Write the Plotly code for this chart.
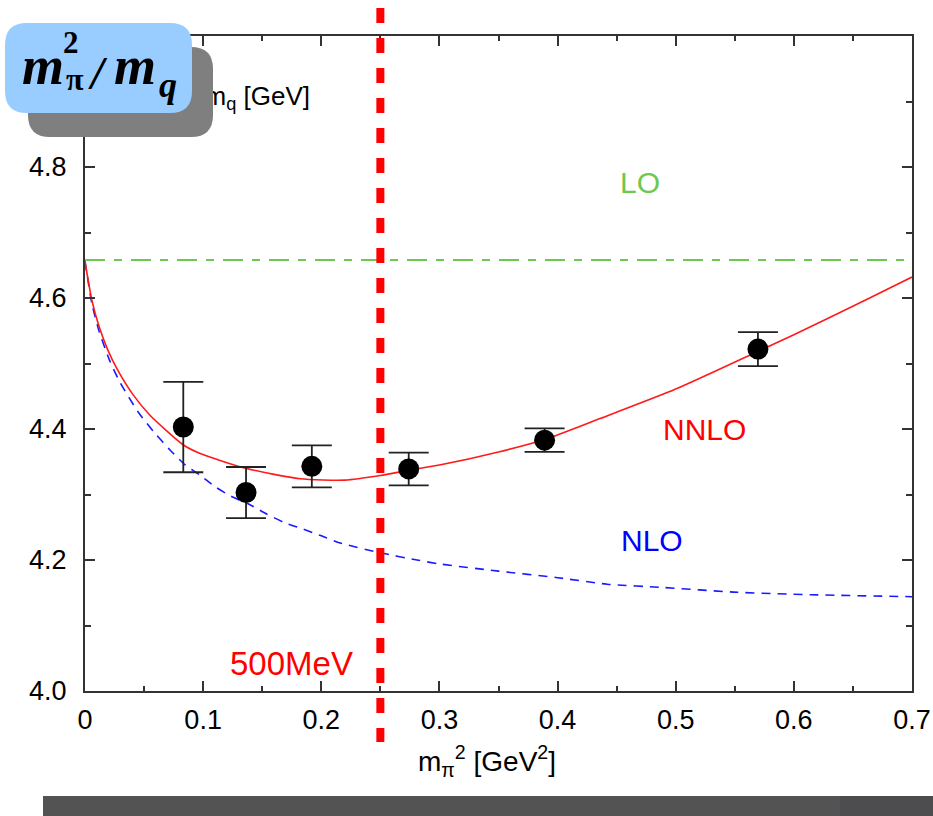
import plotly.graph_objects as go

# ---------------- data ----------------
data_x = [0.0832, 0.1363, 0.192, 0.274, 0.389, 0.5696]
data_y = [4.403, 4.303, 4.343, 4.339, 4.383, 4.522]
data_err = [0.069, 0.039, 0.032, 0.025, 0.018, 0.026]

nnlo_x = [0, 0.006, 0.012, 0.019, 0.027, 0.04, 0.055, 0.083, 0.097, 0.136, 0.182,
          0.22, 0.25, 0.274, 0.30, 0.35, 0.389, 0.436, 0.5, 0.569, 0.6, 0.662, 0.7]
nnlo_y = [4.656, 4.595, 4.556, 4.522, 4.492, 4.454, 4.421, 4.376, 4.363, 4.340, 4.324,
          4.322, 4.329, 4.337, 4.345, 4.365, 4.384, 4.416, 4.461, 4.518, 4.544, 4.598, 4.632]

nlo_x = [0, 0.006, 0.012, 0.021, 0.03, 0.045, 0.058, 0.072, 0.085, 0.097, 0.110, 0.124,
         0.140, 0.154, 0.169, 0.185, 0.200, 0.216, 0.25, 0.281, 0.30, 0.35, 0.40, 0.442,
         0.49, 0.549, 0.614, 0.7]
nlo_y = [4.656, 4.590, 4.549, 4.504, 4.470, 4.426, 4.396, 4.368, 4.345, 4.330, 4.312, 4.297,
         4.284, 4.270, 4.257, 4.247, 4.237, 4.226, 4.211, 4.200, 4.194, 4.183, 4.173, 4.163,
         4.158, 4.151, 4.147, 4.144]

lo_x = [0, 0.7]
lo_y = [4.658, 4.658]

cut_x = 0.25  # (500 MeV)^2

x_ticks = [0, 0.1, 0.2, 0.3, 0.4, 0.5, 0.6, 0.7]
x_ticktext = ["0", "0.1", "0.2", "0.3", "0.4", "0.5", "0.6", "0.7"]
y_ticks = [4.0, 4.2, 4.4, 4.6, 4.8]
y_ticktext = ["4.0", "4.2", "4.4", "4.6", "4.8"]

# ---------------- geometry helpers (pixel -> paper) ----------------
W, H = 933, 816
L, R, T, B = 85, 912, 36, 691
PW, PH = R - L, B - T


def X(px):
    return (px - L) / PW


def Y(py):
    return (B - py) / PH


def rrect(x0, y0, x1, y1, r):
    pts = [
        ("M", [(x0 + r, y0)]),
        ("L", [(x1 - r, y0)]),
        ("Q", [(x1, y0), (x1, y0 + r)]),
        ("L", [(x1, y1 - r)]),
        ("Q", [(x1, y1), (x1 - r, y1)]),
        ("L", [(x0 + r, y1)]),
        ("Q", [(x0, y1), (x0, y1 - r)]),
        ("L", [(x0, y0 + r)]),
        ("Q", [(x0, y0), (x0 + r, y0)]),
    ]
    s = ""
    for cmd, ps in pts:
        s += cmd + " ".join(f"{X(a):.5f},{Y(b):.5f}" for a, b in ps) + " "
    return s + "Z"


fig = go.Figure()

fig.add_trace(go.Scatter(x=lo_x, y=lo_y, mode="lines",
                         line=dict(color="#6cc850", width=2, dash="20px,9px,8px,9px"),
                         hoverinfo="skip"))
fig.add_trace(go.Scatter(x=nlo_x, y=nlo_y, mode="lines",
                         line=dict(color="#1a1aff", width=1.6, dash="9px,7px", shape="spline",
                                   smoothing=0.6),
                         hoverinfo="skip"))
fig.add_trace(go.Scatter(x=nnlo_x, y=nnlo_y, mode="lines",
                         line=dict(color="#ff1a1a", width=1.6, shape="spline", smoothing=0.6),
                         hoverinfo="skip"))
fig.add_trace(go.Scatter(x=data_x, y=data_y, mode="markers",
                         marker=dict(color="black", size=21, symbol="circle"),
                         error_y=dict(type="data", array=data_err, visible=True,
                                      color="#222222", thickness=1.8, width=20),
                         hoverinfo="skip"))

tick_font = dict(family="Liberation Sans, Arial", size=27, color="black")
axis_common = dict(showgrid=False, zeroline=False, showline=True, linecolor="#333333",
                   linewidth=2, mirror="ticks", ticks="inside", tickcolor="#333333",
                   tickwidth=1.5, ticklen=10, automargin=False, tickfont=tick_font)

fig.update_xaxes(range=[0, 0.7], tickvals=x_ticks, ticktext=x_ticktext,
                 minor=dict(dtick=0.05, ticks="inside", ticklen=5, tickcolor="#333333",
                            tickwidth=1.5),
                 ticklabelstandoff=4, **axis_common)
fig.update_yaxes(range=[4.0, 5.0], tickvals=y_ticks, ticktext=y_ticktext,
                 minor=dict(dtick=0.1, ticks="inside", ticklen=6, tickcolor="#333333",
                            tickwidth=1.5),
                 ticklabelstandoff=11, **axis_common)

shapes = []
# y-axis title (as a shape label so the box covers it)
shapes.append(dict(type="rect", xref="paper", yref="paper", layer="above",
                   x0=X(60), x1=X(313), y0=Y(112), y1=Y(82),
                   line=dict(width=0), fillcolor="rgba(0,0,0,0)",
                   label=dict(text="m<sub>π</sub><sup>2</sup>/m<sub>q</sub> [GeV]",
                              textposition="middle right", padding=0,
                              font=dict(family="Liberation Sans, Arial", size=26,
                                        color="black"))))
# shadow and blue box
shapes.append(dict(type="path", xref="paper", yref="paper", layer="above",
                   path=rrect(28, 47, 213, 137, 22), fillcolor="#7f7f7f", line=dict(width=0)))
shapes.append(dict(type="path", xref="paper", yref="paper", layer="above",
                   path=rrect(5, 23, 192, 113, 22), fillcolor="#99ccff", line=dict(width=0)))
# red vertical dashed line
shapes.append(dict(type="line", xref="x", yref="paper", layer="above",
                   x0=cut_x, x1=cut_x, y0=Y(8), y1=Y(742),
                   line=dict(color="#ff0000", width=8, dash="15px,15px")))
# bottom bar
shapes.append(dict(type="rect", xref="paper", yref="paper", layer="above",
                   x0=X(43), x1=X(841), y0=Y(796), y1=Y(816),
                   fillcolor="#535353", line=dict(width=0)))
shapes.append(dict(type="rect", xref="paper", yref="paper", layer="above",
                   x0=X(840), x1=X(933), y0=Y(796), y1=Y(816),
                   fillcolor="#4d4d50", line=dict(width=0)))

ann = []
font_lbl = "Liberation Sans, Arial"
ann.append(dict(x=0.47, y=4.776, xref="x", yref="y", text="LO", showarrow=False,
                xanchor="center", yanchor="middle",
                font=dict(family=font_lbl, size=30, color="#6cc850")))
ann.append(dict(x=0.5246, y=4.3985, xref="x", yref="y", text="NNLO", showarrow=False,
                xanchor="center", yanchor="middle",
                font=dict(family=font_lbl, size=30, color="#ff0000")))
ann.append(dict(x=0.480, y=4.2305, xref="x", yref="y", text="NLO", showarrow=False,
                xanchor="center", yanchor="middle",
                font=dict(family=font_lbl, size=30, color="#0000ff")))
ann.append(dict(x=X(291), y=Y(663), xref="paper", yref="paper", text="500MeV", showarrow=False,
                xanchor="center", yanchor="middle",
                font=dict(family="Liberation Sans Narrow, Liberation Sans, sans-serif",
                          size=33, color="#ff0000")))
# x-axis title
ann.append(dict(x=X(487), y=Y(761), xref="paper", yref="paper",
                text="m<sub>π</sub><sup>2</sup> [GeV<sup>2</sup>]", showarrow=False,
                xanchor="center", yanchor="middle",
                font=dict(family="Liberation Sans, Arial", size=28, color="black")))

# box title pieces
serif = "Liberation Serif, Times New Roman, serif"
pieces = [
    ("m", 43, 65.5, 54, "italic"),
    ("2", 70.5, 42.5, 31, "normal"),
    ("π", 75, 79, 32, "normal"),
    ("/", 97.5, 73, 46, "italic"),
    ("m", 135, 65.5, 54, "italic"),
    ("q", 168, 84.5, 36, "italic"),
]
for txt, cx, cy, sz, st in pieces:
    ann.append(dict(x=X(cx), y=Y(cy), xref="paper", yref="paper", text=txt, showarrow=False,
                    xanchor="center", yanchor="middle",
                    font=dict(family=serif, size=sz, color="black", weight="bold", style=st)))

fig.update_layout(width=W, height=H, margin=dict(l=L, r=W - R, t=T, b=H - B, autoexpand=False),
                  paper_bgcolor="white", plot_bgcolor="white", showlegend=False,
                  shapes=shapes, annotations=ann)

fig.write_html("out.html")
